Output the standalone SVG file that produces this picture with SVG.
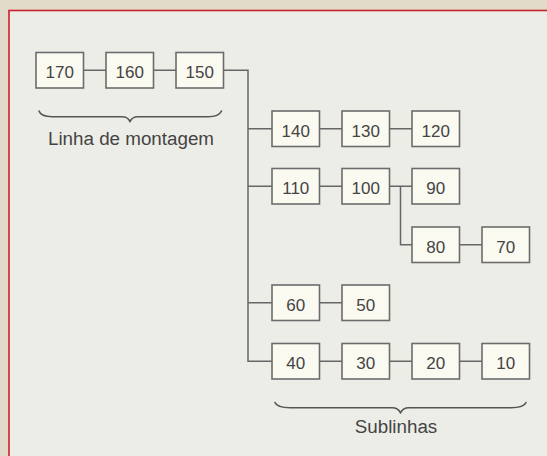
<svg xmlns="http://www.w3.org/2000/svg" width="547" height="456" viewBox="0 0 547 456">
  <style>
    .box rect { fill: #fbfaf1; stroke: #6c6c6c; stroke-width: 1.6; }
    .box text { font-family: "Liberation Sans", Arial, sans-serif; font-size: 17px; fill: #444; text-anchor: middle; }
    .wire { fill: none; stroke: #666; stroke-width: 1.5; }
    .brace { fill: none; stroke: #555; stroke-width: 1.6; stroke-linecap: round; stroke-linejoin: round; }
    .label { font-family: "Liberation Sans", Arial, sans-serif; font-size: 18.8px; fill: #444; text-anchor: middle; }
  </style>

  <!-- page background and frame -->
  <rect x="0" y="0" width="547" height="456" fill="#e2dbca"/>
  <rect x="9" y="10.5" width="560" height="470" fill="#edede8" stroke="#c8232b" stroke-width="1.6"/>

  <!-- connectors -->
  <g id="connectors" class="wire">
    <path d="M83.5,70.25 H106 M153.5,70.25 H176"/>
    <path d="M223.5,70.25 H248 V361.25 H272"/>
    <path d="M248,128.75 H272 M319.5,128.75 H342 M389.5,128.75 H412"/>
    <path d="M248,186.25 H272 M319.5,186.25 H342 M389.5,186.25 H412"/>
    <path d="M400.5,186.25 V244.75 H412 M459.5,244.75 H482"/>
    <path d="M248,302.75 H272 M319.5,302.75 H342"/>
    <path d="M319.5,361.25 H342 M389.5,361.25 H412 M459.5,361.25 H482"/>
  </g>

  <!-- main assembly line -->
  <g id="n170" class="box"><rect x="36" y="52.5" width="47.5" height="35.5"/><text x="59.75" y="78">170</text></g>
  <g id="n160" class="box"><rect x="106" y="52.5" width="47.5" height="35.5"/><text x="129.75" y="78">160</text></g>
  <g id="n150" class="box"><rect x="176" y="52.5" width="47.5" height="35.5"/><text x="199.75" y="78">150</text></g>

  <!-- sub-lines -->
  <g id="n140" class="box"><rect x="272" y="111" width="47.5" height="35.5"/><text x="295.75" y="136.5">140</text></g>
  <g id="n130" class="box"><rect x="342" y="111" width="47.5" height="35.5"/><text x="365.75" y="136.5">130</text></g>
  <g id="n120" class="box"><rect x="412" y="111" width="47.5" height="35.5"/><text x="435.75" y="136.5">120</text></g>

  <g id="n110" class="box"><rect x="272" y="168.5" width="47.5" height="35.5"/><text x="295.75" y="194">110</text></g>
  <g id="n100" class="box"><rect x="342" y="168.5" width="47.5" height="35.5"/><text x="365.75" y="194">100</text></g>
  <g id="n90" class="box"><rect x="412" y="168.5" width="47.5" height="35.5"/><text x="435.75" y="194">90</text></g>

  <g id="n80" class="box"><rect x="412" y="227" width="47.5" height="35.5"/><text x="435.75" y="252.5">80</text></g>
  <g id="n70" class="box"><rect x="482" y="227" width="47.5" height="35.5"/><text x="505.75" y="252.5">70</text></g>

  <g id="n60" class="box"><rect x="272" y="285" width="47.5" height="35.5"/><text x="295.75" y="310.5">60</text></g>
  <g id="n50" class="box"><rect x="342" y="285" width="47.5" height="35.5"/><text x="365.75" y="310.5">50</text></g>

  <g id="n40" class="box"><rect x="272" y="343.5" width="47.5" height="35.5"/><text x="295.75" y="369">40</text></g>
  <g id="n30" class="box"><rect x="342" y="343.5" width="47.5" height="35.5"/><text x="365.75" y="369">30</text></g>
  <g id="n20" class="box"><rect x="412" y="343.5" width="47.5" height="35.5"/><text x="435.75" y="369">20</text></g>
  <g id="n10" class="box"><rect x="482" y="343.5" width="47.5" height="35.5"/><text x="505.75" y="369">10</text></g>

  <!-- braces and captions -->
  <g id="brace-main">
    <path class="brace" d="M39,111 Q41,116.7 52,116.7 H122 Q128,116.7 130,121.7 Q132,116.7 138,116.7 H208 Q219,116.7 221.5,111"/>
    <text class="label" x="131" y="145">Linha de montagem</text>
  </g>
  <g id="brace-sub">
    <path class="brace" d="M275,402.5 Q277,407.7 290,407.7 H392 Q398.5,407.7 400.5,413 Q402.5,407.7 409,407.7 H511 Q524,407.7 526,402.5"/>
    <text class="label" x="396" y="432.5">Sublinhas</text>
  </g>
</svg>
